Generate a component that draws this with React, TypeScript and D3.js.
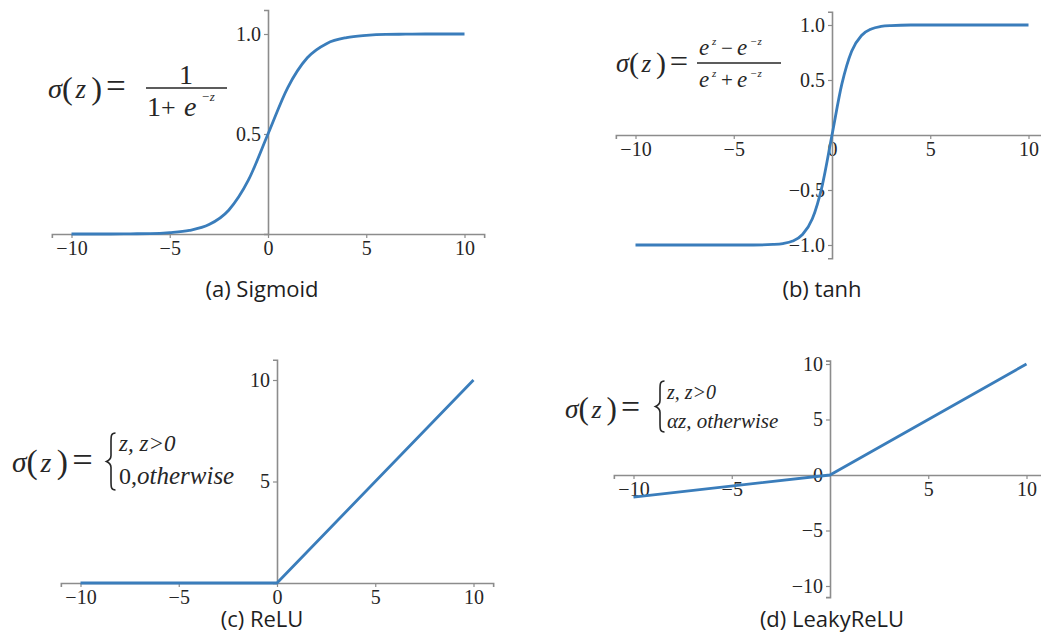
import React, { useEffect, useRef } from 'react';
import * as d3 from 'd3';

// values
const xTicks = [-10, -5, 0, 5, 10];
const leakyXTicks = [-10, -5, 5, 10];

const sigmoidZ = [-10, -9, -8, -7, -6, -5, -4, -3, -2, -1, 0, 1, 2, 3, 4, 5, 6, 7, 8, 9, 10];
const sigmoidValues = [0, 0, 0, 0.001, 0.002, 0.007, 0.018, 0.047, 0.119, 0.269, 0.5, 0.731, 0.881, 0.953, 0.982, 0.993, 0.998, 0.999, 1, 1, 1];
const sigmoidYTicks = [0.5, 1.0];

const tanhZ = [-10, -4, -3, -2.5, -2, -1.5, -1, -0.5, 0, 0.5, 1, 1.5, 2, 2.5, 3, 4, 10];
const tanhValues = [-1, -1, -0.995, -0.987, -0.964, -0.905, -0.762, -0.462, 0, 0.462, 0.762, 0.905, 0.964, 0.987, 0.995, 1, 1];
const tanhYTicks = [-1.0, -0.5, 0.5, 1.0];

const reluZ = [-10, 0, 10];
const reluValues = [0, 0, 10];
const reluYTicks = [5, 10];

const leakyZ = [-10, 0, 10];
const leakyValues = [-2, 0, 10];
const leakyYTicks = [-10, -5, 0, 5, 10];

const captions = ['(a) Sigmoid', '(b) tanh', '(c) ReLU', '(d) LeakyReLU'];

const LINE = '#3a7dbb';
const AXIS = '#8c8c8c';
const INK = '#262626';
const SERIF = '"Liberation Serif", "DejaVu Serif", serif';

const panels = [
  { z: sigmoidZ, v: sigmoidValues, curve: d3.curveMonotoneX, xt: xTicks, yt: sigmoidYTicks, fmt: '.1f', x0: 268, xu: 19.65, y0: 234, yu: 200, yd: [0, 1.12], cap: [262, 297] },
  { z: tanhZ, v: tanhValues, curve: d3.curveMonotoneX, xt: xTicks, yt: tanhYTicks, fmt: '.1f', x0: 832, xu: 19.65, y0: 135, yu: 110, yd: [-1.12, 1.12], cap: [822, 297] },
  { z: reluZ, v: reluValues, curve: d3.curveLinear, xt: xTicks, yt: reluYTicks, fmt: 'd', x0: 277, xu: 19.65, y0: 583, yu: 20.3, yd: [0, 11], cap: [262, 627] },
  { z: leakyZ, v: leakyValues, curve: d3.curveLinear, xt: leakyXTicks, yt: leakyYTicks, fmt: 'd', x0: 830, xu: 19.65, y0: 475, yu: 11.1, yd: [-11, 10.3], cap: [832, 627] },
];

const App = () => {
  const ref = useRef<SVGSVGElement>(null);

  useEffect(() => {
    const svg = d3.select(ref.current);
    svg.selectAll('*').remove();

    panels.forEach((p, i) => {
      const x = d3.scaleLinear().domain([-11, 11]).range([p.x0 - 11 * p.xu, p.x0 + 11 * p.xu]);
      const y = d3.scaleLinear().domain(p.yd).range([p.y0 - p.yd[0] * p.yu, p.y0 - p.yd[1] * p.yu]);
      const g = svg.append('g');

      const xAxis = g.append('g')
        .attr('transform', `translate(0,${y(0)})`)
        .call(d3.axisBottom(x).tickValues(p.xt).tickSizeOuter(0).tickSize(4).tickPadding(3).tickFormat(d3.format('d')));
      const yAxis = g.append('g')
        .attr('transform', `translate(${x(0)},0)`)
        .call(d3.axisLeft(y).tickValues(p.yt).tickSizeOuter(0).tickSize(4).tickPadding(3).tickFormat(d3.format(p.fmt)));

      [xAxis, yAxis].forEach(a => {
        a.select('.domain').attr('stroke', AXIS).attr('stroke-width', 1.6);
        a.selectAll('.tick line').attr('stroke', AXIS).attr('stroke-width', 1.2);
        a.selectAll('.tick text').attr('fill', INK).style('font-family', SERIF).style('font-size', '20px');
      });

      const pts = p.z.map((z, k) => [z, p.v[k]] as [number, number]);
      g.append('path')
        .datum(pts)
        .attr('fill', 'none')
        .attr('stroke', LINE)
        .attr('stroke-width', 2.8)
        .attr('stroke-linejoin', 'round')
        .attr('d', d3.line().x(d => x(d[0])).y(d => y(d[1])).curve(p.curve));

      g.append('text')
        .attr('x', p.cap[0]).attr('y', p.cap[1])
        .attr('text-anchor', 'middle')
        .style('font-family', '"Open Sans", "Noto Sans", sans-serif')
        .style('font-size', '22px')
        .attr('fill', '#1e1e1e')
        .text(captions[i]);
    });

    // formulas
    const f = svg.append('g').attr('fill', INK).style('font-family', SERIF);
    const t = (s: string, px: number, py: number, size: number, italic = false, anchor = 'start') =>
      f.append('text').attr('x', px).attr('y', py).attr('text-anchor', anchor)
        .style('font-size', `${size}px`).style('font-style', italic ? 'italic' : 'normal').text(s);
    const lhs = (px: number, py: number, size: number) => {
      t('σ', px, py, size * 1.05, true);
      t('(', px + size * 0.52, py + 1, size * 1.2);
      t('z', px + size * 1.02, py, size, true);
      t(')', px + size * 1.6, py + 1, size * 1.2);
      t('=', px + size * 2.15, py, size * 1.3);
    };
    const brace = (cx: number, y1: number, y2: number, w: number) => {
      const ym = (y1 + y2) / 2;
      f.append('path')
        .attr('fill', 'none').attr('stroke', INK).attr('stroke-width', 1.6)
        .attr('d', `M${cx + w / 2},${y1} C${cx},${y1} ${cx},${y1 + 3} ${cx},${y1 + 9} L${cx},${ym - 6} C${cx},${ym - 2} ${cx - w / 2},${ym} ${cx - w / 2},${ym} C${cx - w / 2},${ym} ${cx},${ym + 2} ${cx},${ym + 6} L${cx},${y2 - 9} C${cx},${y2 - 3} ${cx},${y2} ${cx + w / 2},${y2}`);
    };

    // (a) sigmoid
    lhs(48, 98, 27);
    f.append('line').attr('x1', 146).attr('x2', 227).attr('y1', 88).attr('y2', 88).attr('stroke', INK).attr('stroke-width', 1.5);
    t('1', 186, 84, 28, false, 'middle');
    t('1', 147, 116, 28);
    t('+', 161, 116, 26);
    t('e', 184, 116, 28, true);
    t('−z', 201, 101, 13, true);

    // (b) tanh
    lhs(616, 72, 25);
    f.append('line').attr('x1', 697).attr('x2', 781).attr('y1', 63).attr('y2', 63).attr('stroke', INK).attr('stroke-width', 1.4);
    t('e', 699, 55, 23, true);
    t('z', 712, 45, 11, true);
    t('−', 721, 55, 21);
    t('e', 737, 55, 23, true);
    t('−z', 750, 45, 11, true);
    t('e', 699, 87, 23, true);
    t('z', 712, 77, 11, true);
    t('+', 721, 87, 21);
    t('e', 737, 87, 23, true);
    t('−z', 750, 77, 11, true);

    // (c) ReLU
    lhs(12, 472, 28);
    brace(111, 433, 490, 9);
    t('z, z>0', 119, 451, 23, true);
    t('0,', 119, 484, 24);
    t('otherwise', 137, 484, 25, true);

    // (d) LeakyReLU
    lhs(565, 418, 26);
    brace(660, 381, 432, 9);
    t('z, z>0', 667, 399, 20, true);
    t('αz, otherwise', 667, 428, 21, true);
  }, []);

  return (
    <svg
      ref={ref}
      width={1041}
      height={635}
      style={{ position: 'absolute', left: 0, top: 0, background: '#fff' }}
    />
  );
};

export default App;
